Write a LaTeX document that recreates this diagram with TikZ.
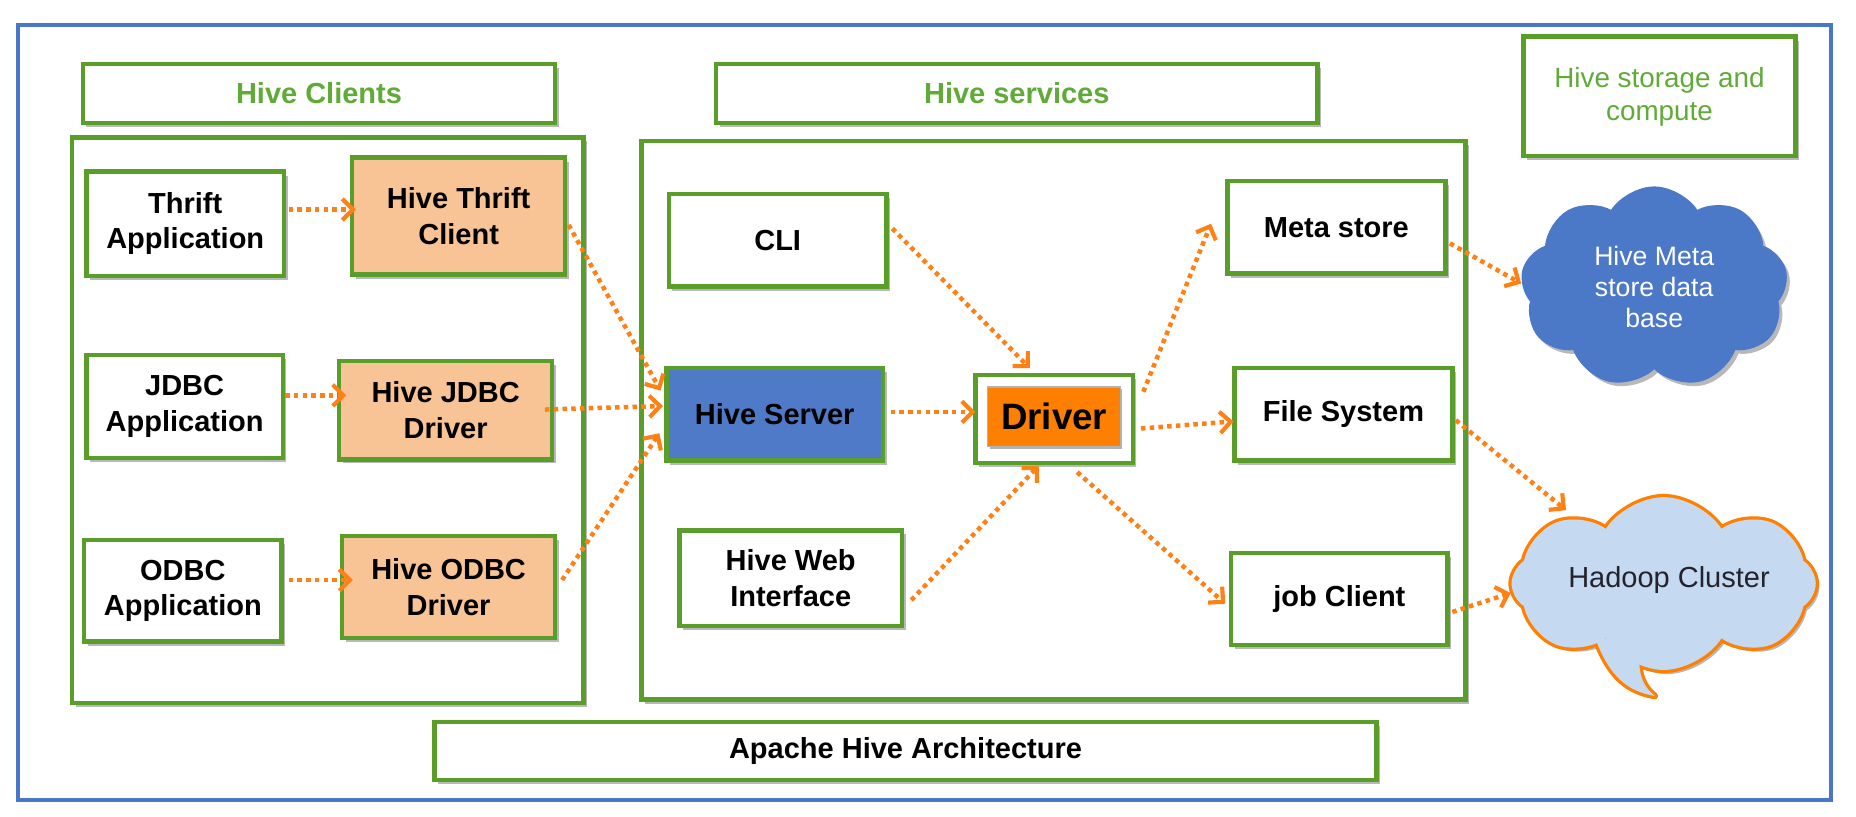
\documentclass[tikz,border=0pt]{standalone}
\usepackage{fontspec}
\setmainfont{Liberation Sans}
\usetikzlibrary{shapes.symbols,shadows,arrows.meta}
\definecolor{gb}{RGB}{88,158,40}
\definecolor{gt}{RGB}{96,170,56}
\definecolor{framebl}{RGB}{72,118,200}
\definecolor{peach}{RGB}{248,196,150}
\definecolor{hsblue}{RGB}{78,122,200}
\definecolor{drvor}{RGB}{255,128,0}
\definecolor{arr}{RGB}{255,128,20}
\definecolor{cloudbl}{RGB}{76,120,200}
\definecolor{hadfill}{RGB}{197,217,241}
\definecolor{hadtext}{RGB}{35,35,45}
\begin{document}
\begin{tikzpicture}[x=1pt,y=-1pt,
  shad/.style={drop shadow={shadow xshift=3pt,shadow yshift=-3.5pt,fill=black,opacity=0.28}},
  sz/.style 2 args={minimum width=#1pt,minimum height=#2pt},
  gbox/.style={draw=gb,line width=3.8pt,fill=white,shad,inner sep=0pt,align=center,
    font=\fontsize{24.5}{30}\selectfont\bfseries},
  title/.style={gbox,text=gt},
  peachbox/.style={gbox,fill=peach},
  flow/.style={draw=arr,line width=3.8pt,dash pattern=on 3.8pt off 3.6pt,
    -{Straight Barb[length=9pt,width=18pt,line width=3.5pt]}},
  cloudshape/.style={cloud,cloud puffs=9,cloud puff arc=115,inner sep=0pt}
]
\useasboundingbox (0,0) rectangle (1568,690);
\fill[white] (0,0) rectangle (1568,690);
% outer frame
\draw[framebl,line width=3pt] (15,21) rectangle (1547,676);

% titles
\node[title,sz={399}{50}] (hcl) at (269.5,79) {Hive Clients};
\node[title,sz={508}{50}] (hsvc) at (859,79) {Hive services};
\node[title,sz={230}{101},font=\fontsize{23.5}{28}\selectfont] (hst) at (1402,81.5) {Hive storage and\\compute};
\node[gbox,sz={796}{49}] (aha) at (765,634.5) {Apache Hive Architecture};

% groups
\node[gbox,sz={432}{478}] (cgrp) at (277,355) {};
\node[gbox,sz={696}{472}] (sgrp) at (890,355) {};

% clients
\node[gbox,sz={167}{88}] (ta) at (156.5,189) {Thrift\\Application};
\node[peachbox,sz={180}{99}] (htc) at (387.5,182.5) {Hive Thrift\\Client};
\node[gbox,sz={166}{87}] (ja) at (156,343.5) {JDBC\\Application};
\node[peachbox,sz={180}{83}] (hjd) at (376.5,346.5) {Hive JDBC\\Driver};
\node[gbox,sz={167}{86}] (oa) at (154.5,499) {ODBC\\Application};
\node[peachbox,sz={180}{86}] (hod) at (379,496) {Hive ODBC\\Driver};

% services
\node[gbox,sz={184}{78}] (cli) at (657,203) {CLI};
\node[gbox,sz={183}{78},fill=hsblue] (hsv) at (654.5,350) {Hive Server};
\node[gbox,sz={188}{81}] (hwi) at (668,488.5) {Hive Web\\Interface};
\node[gbox,sz={133}{74}] (drv) at (890.5,354) {};
\node[sz={112}{50},fill=drvor,draw=black!30,line width=1pt,inner sep=0pt,
  font=\fontsize{31}{36}\selectfont\bfseries,
  drop shadow={shadow xshift=1.5pt,shadow yshift=-2pt,fill=black,opacity=0.3}] (drvin) at (890.5,352) {Driver};
\node[gbox,sz={184}{78}] (ms) at (1129,192) {Meta store};
\node[gbox,sz={184}{78}] (fs) at (1135,350) {File System};
\node[gbox,sz={183}{78}] (jc) at (1131.5,506) {job Client};

% clouds
\node[cloudshape,fill=cloudbl,draw=cloudbl,line width=1pt,shad,sz={225}{169},
  text=white,align=center,font=\fontsize{22.5}{26.5}\selectfont] (mdb) at (1397.5,242.5)
  {Hive Meta\\store data\\base};

\node[cloudshape,cloud puffs=8,draw=drvor,line width=5.5pt,fill=hadfill,shad,sz={257}{146}] (hdc) at (1405.5,493) {};
\draw[drvor,line width=5.5pt,line join=round,fill=hadfill]
  (1348,540) .. controls (1360,572) and (1375,584) .. (1398,588)
  .. controls (1386,578) and (1382,565) .. (1387,540) -- cycle;
\fill[hadfill]
  (1348,540) .. controls (1360,572) and (1375,584) .. (1398,588)
  .. controls (1386,578) and (1382,565) .. (1387,540) -- cycle;
\node[cloudshape,cloud puffs=8,fill=hadfill,sz={257}{146}] (hdct) at (1405.5,493) {};
\node[text=hadtext,font=\fontsize{24.5}{28}\selectfont] (hdlbl) at (1410,490) {Hadoop Cluster};

% connectors
\draw[flow] ([shift={(2,-12)}]ta.east) -- ([shift={(5,-5.5)}]htc.west);
\draw[flow] ([shift={(0,-9.5)}]ja.east) -- ([shift={(8,-12.5)}]hjd.west);
\draw[flow] ([shift={(4,-9)}]oa.east) -- ([shift={(11,-6)}]hod.west);
\draw[flow] ([shift={(1,7.5)}]htc.east) -- ([shift={(-3,-20)}]hsv.west);
\draw[flow] ([shift={(-8,-0.5)}]hjd.east) -- ([shift={(-1,-7)}]hsv.west);
\draw[flow] ([shift={(4,-6)}]hod.east) -- ([shift={(-4,16)}]hsv.west);
\draw[flow] ([shift={(3,-10)}]cli.east) -- ([shift={(-20.5,-4)}]drv.north);
\draw[flow] ([shift={(4.5,-2)}]hsv.east) -- ([shift={(2,-6)}]drv.west);
\draw[flow] ([shift={(6,18.5)}]hwi.east) -- ([shift={(-13,0.5)}]drv.south);
\draw[flow] ([shift={(7,-23)}]drv.east) -- ([shift={(-12,-3)}]ms.west);
\draw[flow] ([shift={(5,8)}]drv.east) -- ([shift={(1,6)}]fs.west);
\draw[flow] ([shift={(19.5,6)}]drv.south) -- ([shift={(-3,4)}]jc.west);
\draw[flow] ([shift={(2,13.6)}]ms.east) -- ([shift={(-1,-3)}]mdb.west);
\draw[flow] ([shift={(1,5)}]fs.east) -- ([shift={(-82.5,-62)}]hdc.center);
\draw[flow] ([shift={(2,11)}]jc.east) -- ([shift={(2,8)}]hdc.west);
\end{tikzpicture}
\end{document}
